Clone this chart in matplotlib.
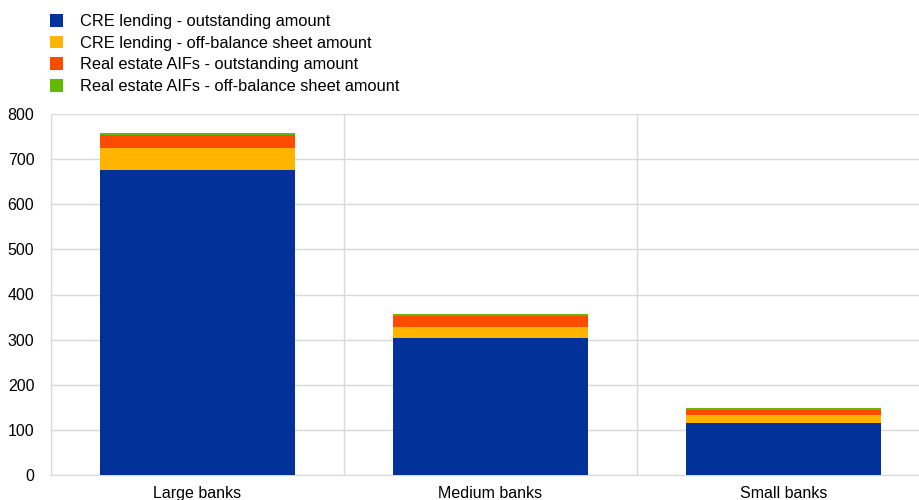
import matplotlib
matplotlib.use("Agg")
import matplotlib.pyplot as plt
from matplotlib.patches import Patch
import numpy as np

plt.rcParams['font.family'] = ['Liberation Sans', 'DejaVu Sans']

categories = ["Large banks", "Medium banks", "Small banks"]
series_names = ["CRE lending - outstanding amount",
                "CRE lending - off-balance sheet amount",
                "Real estate AIFs - outstanding amount",
                "Real estate AIFs - off-balance sheet amount"]
cre_outstanding = [677, 304, 116]
cre_offbalance = [48, 23, 17]
aif_outstanding = [29, 26, 12]
aif_offbalance = [3, 3, 3]
colors = ["#003299", "#FFB400", "#FF4B00", "#65B800"]
yticks = [0, 100, 200, 300, 400, 500, 600, 700, 800]

fig = plt.figure(figsize=(9.19, 5.0), dpi=100)
ax = fig.add_axes([51/919, 25/500, 879/919, 361/500])

x = np.arange(len(categories))
bottom = np.zeros(len(categories))
for vals, c in zip([cre_outstanding, cre_offbalance, aif_outstanding, aif_offbalance], colors):
    ax.bar(x, vals, width=0.665, bottom=bottom, color=c, zorder=3)
    bottom += np.array(vals)

ax.set_xlim(-0.5, len(categories) - 0.5)
ax.set_ylim(0, 800)
ax.set_yticks(yticks)
ax.set_xticks(x)
ax.set_xticklabels(categories)
ax.set_xticks(np.arange(len(categories) + 1) - 0.5, minor=True)
ax.grid(axis='y', which='major', color='#d9d9d9', linewidth=1, zorder=0)
ax.grid(axis='x', which='minor', color='#d9d9d9', linewidth=1, zorder=0)
ax.grid(axis='x', which='major', visible=False)
ax.tick_params(axis='both', which='both', length=0, labelsize=11.5, colors='#000000')
ax.tick_params(axis='y', pad=12)
ax.tick_params(axis='x', pad=8)
for s in ['top', 'right']:
    ax.spines[s].set_visible(False)
ax.spines['left'].set_color('#d9d9d9')
ax.spines['bottom'].set_color('#d9d9d9')

handles = [Patch(facecolor=c, edgecolor='none') for c in colors]
fig.legend(handles, series_names, loc='upper left', bbox_to_anchor=(47/919, 1 - 11/500),
           frameon=False, fontsize=11.8, handlelength=0.8, handleheight=0.8,
           handletextpad=1.0, labelspacing=0.4, borderaxespad=0, borderpad=0.2)

fig.savefig("out.png", dpi=100)
